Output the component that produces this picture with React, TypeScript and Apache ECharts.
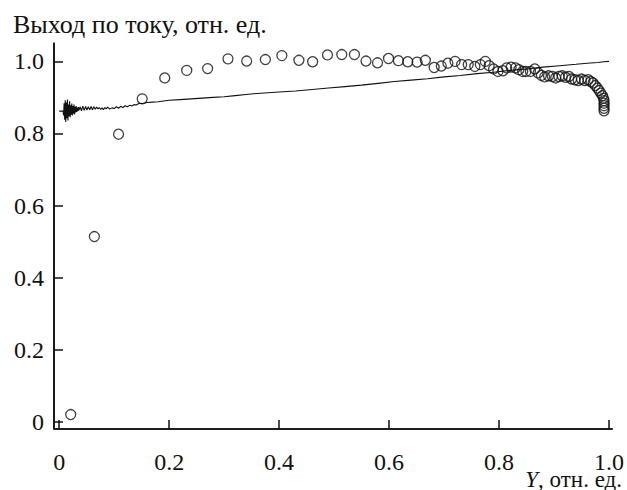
import React, { useEffect, useRef } from "react";
import * as echarts from "echarts";

// Curve (solid line): x and y values
const lineX = [
  0.0, 0.007,
  0.008, 0.009, 0.01, 0.011, 0.012, 0.013, 0.014, 0.015, 0.016, 0.017, 0.018, 0.019, 0.02,
  0.021, 0.022, 0.023, 0.024, 0.025, 0.026, 0.027, 0.028, 0.029, 0.03, 0.031, 0.032, 0.033,
  0.034, 0.035, 0.036,
  0.038, 0.0405, 0.043, 0.0455, 0.048, 0.0505, 0.053, 0.0555, 0.058, 0.0605, 0.063, 0.0655,
  0.068, 0.0705, 0.073, 0.0755, 0.078, 0.0805, 0.083, 0.0855, 0.088,
  0.092, 0.096, 0.1, 0.104, 0.108, 0.112, 0.116, 0.12, 0.124, 0.128, 0.132, 0.136, 0.14,
  0.146, 0.152, 0.16, 0.17, 0.18, 0.19, 0.2, 0.22, 0.24, 0.26, 0.28, 0.3, 0.32, 0.34, 0.36,
  0.38, 0.4, 0.43, 0.46, 0.49, 0.52, 0.55, 0.58, 0.61, 0.64, 0.67, 0.7, 0.73, 0.76, 0.79,
  0.82, 0.85, 0.88, 0.91, 0.94, 0.96, 0.98, 0.99, 1.0,
];
const lineY = [
  0.862, 0.862,
  0.85, 0.884, 0.838, 0.892, 0.832, 0.886, 0.842, 0.894, 0.836, 0.88, 0.848, 0.889, 0.845,
  0.878, 0.852, 0.883, 0.85, 0.876, 0.855, 0.88, 0.853, 0.874, 0.858, 0.876, 0.86, 0.872,
  0.862, 0.873, 0.864,
  0.874, 0.863, 0.876, 0.864, 0.875, 0.865, 0.874, 0.866, 0.875, 0.866, 0.874, 0.867,
  0.873, 0.868, 0.872, 0.867, 0.871, 0.866, 0.872, 0.868, 0.873,
  0.868, 0.871, 0.869, 0.874, 0.87, 0.875, 0.872, 0.877, 0.874, 0.878, 0.876, 0.88, 0.879,
  0.884, 0.883, 0.886, 0.887, 0.888, 0.89, 0.892, 0.894, 0.896, 0.898, 0.9, 0.902, 0.905, 0.908, 0.911,
  0.913, 0.915, 0.918, 0.922, 0.926, 0.93, 0.934, 0.939, 0.944, 0.948, 0.952, 0.957, 0.961, 0.966, 0.97,
  0.975, 0.979, 0.984, 0.988, 0.992, 0.995, 0.997, 0.999, 1.0,
];

// Measured points (open circles)
const scatterX = [
  0.021, 0.064, 0.108, 0.151, 0.192, 0.232, 0.27, 0.307, 0.341, 0.375, 0.405, 0.436, 0.461,
  0.488, 0.514, 0.537, 0.558, 0.579, 0.599, 0.617, 0.634, 0.651, 0.666, 0.682, 0.695, 0.707,
  0.72, 0.732, 0.744, 0.756, 0.766, 0.775, 0.782, 0.79, 0.798, 0.807, 0.814, 0.822, 0.83,
  0.836, 0.843, 0.849, 0.857, 0.865, 0.871, 0.877, 0.883, 0.89, 0.897, 0.903, 0.909, 0.915,
  0.921, 0.927, 0.932, 0.938, 0.944, 0.95, 0.956, 0.962, 0.967, 0.971, 0.975, 0.979, 0.982,
  0.985, 0.988, 0.99, 0.991, 0.991, 0.991, 0.991, 0.991,
];
const scatterY = [
  0.02, 0.514, 0.798, 0.896, 0.954, 0.975, 0.98, 1.007, 1.001, 1.005, 1.016, 1.003, 0.999,
  1.018, 1.019, 1.019, 1.001, 0.996, 1.008, 1.002, 0.999, 0.998, 1.003, 0.983, 0.987, 0.995,
  1.0, 0.991, 0.991, 0.986, 0.991, 1.0, 0.988, 0.979, 0.972, 0.974, 0.982, 0.984, 0.982,
  0.977, 0.972, 0.972, 0.972, 0.979, 0.968, 0.961, 0.957, 0.96, 0.958, 0.954, 0.958, 0.96,
  0.956, 0.958, 0.951, 0.949, 0.947, 0.951, 0.947, 0.949, 0.944, 0.94, 0.933, 0.926, 0.919,
  0.912, 0.905, 0.898, 0.891, 0.884, 0.877, 0.87, 0.863,
];

// Ticks
const xTicks = [0, 0.2, 0.4, 0.6, 0.8, 1.0];
const xTickLabels = ["0", "0.2", "0.4", "0.6", "0.8", "1.0"];
const yTicks = [0, 0.2, 0.4, 0.6, 0.8, 1.0];
const yTickLabels = ["0", "0.2", "0.4", "0.6", "0.8", "1.0"];

const yTitle = "Выход по току, отн. ед.";
const xTitleItalic = "Y";
const xTitleRest = ", отн. ед.";

const X_MIN = -0.0094;
const X_MAX = 1.006;
const Y_MIN = -0.02;
const Y_MAX = 1.051;

const FONT = "Liberation Serif";
const INK = "#111111";

export default function App() {
  const ref = useRef<HTMLDivElement>(null);
  useEffect(() => {
    if (!ref.current) return;
    const chart = echarts.init(ref.current, undefined, { renderer: "svg" });
    const lab = (ticks: number[], labels: string[]) => (v: number) => {
      const i = ticks.findIndex((t) => Math.abs(t - v) < 1e-9);
      return i >= 0 ? labels[i] : "";
    };
    const axisLineOpt = { show: true, onZero: false, lineStyle: { color: INK, width: 1.6, opacity: 1 } };
    const axisTickOpt = (vals: number[]) => ({
      show: true,
      inside: true,
      length: 9,
      customValues: vals,
      lineStyle: { color: INK, width: 1.5, opacity: 1 },
    });
    chart.setOption({
      animation: false,
      grid: { left: 54, right: 13, top: 43, bottom: 61, containLabel: false, show: false },
      xAxis: {
        type: "value",
        min: X_MIN,
        max: X_MAX,
        axisLine: axisLineOpt,
        axisTick: axisTickOpt(xTicks),
        axisLabel: {
          customValues: xTicks,
          formatter: lab(xTicks, xTickLabels),
          fontFamily: FONT,
          fontSize: 24,
          color: INK,
          margin: 21,
        },
        splitLine: { show: false },
      },
      yAxis: {
        type: "value",
        min: Y_MIN,
        max: Y_MAX,
        axisLine: axisLineOpt,
        axisTick: axisTickOpt(yTicks),
        axisLabel: {
          customValues: yTicks,
          formatter: lab(yTicks, yTickLabels),
          fontFamily: FONT,
          fontSize: 24,
          color: INK,
          margin: 10,
        },
        splitLine: { show: false },
      },
      graphic: [
        {
          type: "text",
          x: 13,
          y: 24,
          style: {
            text: yTitle,
            fontFamily: FONT,
            fontSize: 26,
            fill: INK,
            textAlign: "left",
            textVerticalAlign: "middle",
          },
        },
        {
          type: "text",
          x: 622,
          y: 479,
          style: {
            text: `{i|${xTitleItalic}}{r|${xTitleRest}}`,
            rich: {
              i: { fontFamily: FONT, fontSize: 23, fontStyle: "italic", color: INK },
              r: { fontFamily: FONT, fontSize: 23, color: INK },
            },
            fontFamily: FONT,
            fontSize: 23,
            fill: INK,
            textAlign: "right",
            textVerticalAlign: "middle",
          },
        },
      ],
      series: [
        // axis frame also drawn as series, coincident with the axis lines
        {
          type: "line",
          data: [[X_MIN, Y_MIN], [X_MAX, Y_MIN]],
          symbol: "none",
          clip: false,
          silent: true,
          lineStyle: { color: INK, width: 1.6, opacity: 1 },
          z: 5,
        },
        {
          type: "line",
          data: [[X_MIN, Y_MIN], [X_MIN, Y_MAX]],
          symbol: "none",
          clip: false,
          silent: true,
          lineStyle: { color: INK, width: 1.6, opacity: 1 },
          z: 5,
        },
        {
          type: "line",
          data: lineX.map((x, i) => [x, lineY[i]]),
          showSymbol: false,
          symbol: "none",
          clip: false,
          lineStyle: { color: INK, width: 1.1 },
          z: 2,
        },
        {
          type: "scatter",
          data: scatterX.map((x, i) => [x, scatterY[i]]),
          symbol: "circle",
          symbolSize: 10,
          clip: false,
          itemStyle: { color: "transparent", borderColor: INK, borderWidth: 1.3 },
          z: 3,
        },
      ],
    });
    return () => chart.dispose();
  }, []);
  return (
    <div
      ref={ref}
      style={{ position: "fixed", left: 0, top: 0, width: 627, height: 490, background: "#fff" }}
    />
  );
}
